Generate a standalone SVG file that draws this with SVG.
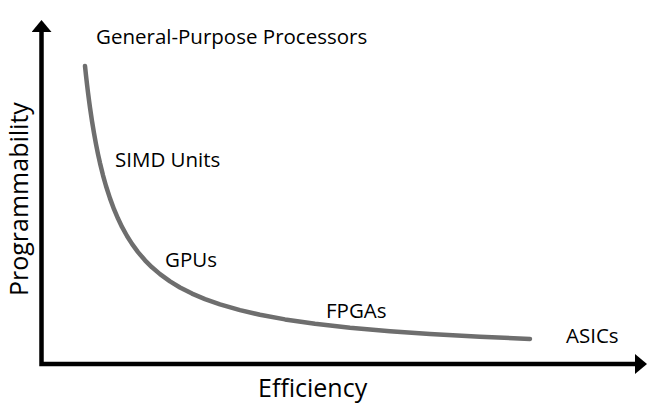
<svg xmlns="http://www.w3.org/2000/svg" width="670" height="411" viewBox="0 0 670 411">
<style>
.lbl{font-family:"Open Sans","Liberation Sans",sans-serif;font-size:20.5px;fill:#000}
.axl{font-family:"Open Sans","Liberation Sans",sans-serif;font-size:25px;fill:#000}
.axis{fill:none;stroke:#000;stroke-width:4.5}
.curve{fill:none;stroke:#6e6e6e;stroke-width:4.5;stroke-linejoin:round;stroke-linecap:round}
</style>
<defs>
<marker id="ah" markerUnits="userSpaceOnUse" viewBox="0 0 12 20" markerWidth="12" markerHeight="20" refX="0" refY="10" orient="auto-start-reverse">
<path d="M0,0 L12,10 L0,20 z" fill="#000"/>
</marker>
</defs>
<rect width="670" height="411" fill="#fff"/>
<g id="connectors">
<path class="axis" d="M41.5,32 L41.5,364 L635,364" marker-start="url(#ah)" marker-end="url(#ah)"/>
<polyline id="curve" class="curve" points="85,66 86,75.4 87,84.2 88,92.5 89,100.3 90,107.6 92,121.1 94,133.2 96,144.2 98,154.1 100,163.1 103,175.3 106,186 110,198.4 114,209.2 118,218.6 122,226.9 127,236 132,243.9 138,252.1 145,260.3 152,267.3 160,274.1 170,281.4 180,287.5 192,293.6 205,299.1 220,304.4 240,310.1 260,314.8 285,319.4 315,323.8 350,327.8 390,331.3 430,334.1 480,336.8 530,339"/>
</g>
<g id="gpp"><text class="lbl" x="96" y="44">General-Purpose Processors</text></g>
<g id="simd"><text class="lbl" x="115" y="167">SIMD Units</text></g>
<g id="gpus"><text class="lbl" x="165" y="267">GPUs</text></g>
<g id="fpgas"><text class="lbl" x="326" y="318">FPGAs</text></g>
<g id="asics"><text class="lbl" x="566" y="343">ASICs</text></g>
<g id="xlabel"><text class="axl" x="258" y="397">Efficiency</text></g>
<g id="ylabel"><text class="axl" transform="translate(28,296) rotate(-90)" x="0" y="0">Programmability</text></g>
</svg>
